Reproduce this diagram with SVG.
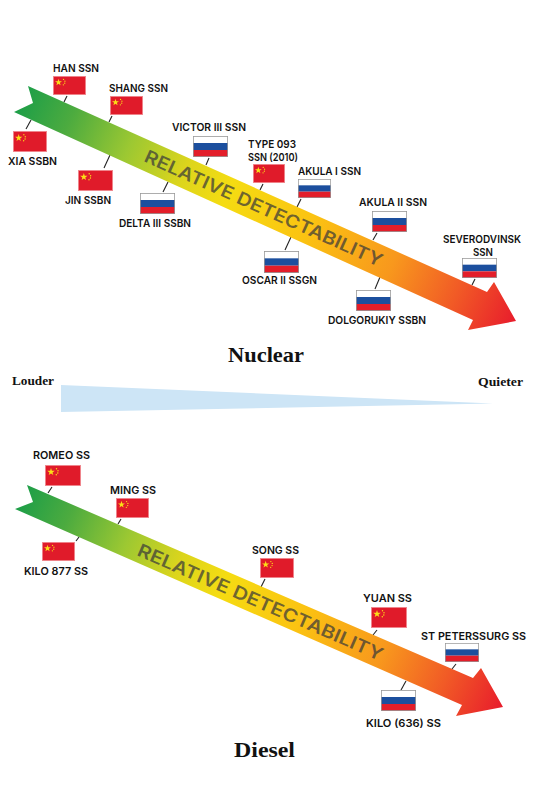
<svg xmlns="http://www.w3.org/2000/svg" width="533" height="800" viewBox="0 0 533 800">
<style>
.l{font-family:Inter,"Liberation Sans",sans-serif;font-weight:600;font-size:10.5px;fill:#111}
.t{font-family:"Liberation Serif",serif;font-weight:700;fill:#111}
.d{font-family:Inter,"Liberation Sans",sans-serif;font-weight:600;font-size:18px;fill:#3a3a3a;fill-opacity:.72}
#connectors line{stroke:#222;stroke-width:1.1}
</style>
<defs>
<linearGradient id="g1" gradientUnits="userSpaceOnUse" x1="20" y1="98" x2="516" y2="321">
<stop offset="0" stop-color="#1c9e48"/><stop offset=".1" stop-color="#4cab3f"/><stop offset=".22" stop-color="#9cc832"/><stop offset=".33" stop-color="#dcd51c"/><stop offset=".42" stop-color="#f5dc12"/><stop offset=".58" stop-color="#fbc312"/><stop offset=".75" stop-color="#f8981d"/><stop offset=".88" stop-color="#f15a26"/><stop offset="1" stop-color="#e81c2c"/>
</linearGradient>
<linearGradient id="g2" gradientUnits="userSpaceOnUse" x1="20" y1="496" x2="503" y2="707">
<stop offset="0" stop-color="#1c9e48"/><stop offset=".1" stop-color="#4cab3f"/><stop offset=".22" stop-color="#9cc832"/><stop offset=".33" stop-color="#dcd51c"/><stop offset=".42" stop-color="#f5dc12"/><stop offset=".58" stop-color="#fbc312"/><stop offset=".75" stop-color="#f8981d"/><stop offset=".88" stop-color="#f15a26"/><stop offset="1" stop-color="#e81c2c"/>
</linearGradient>
<symbol id="cn" viewBox="0 0 36 21" preserveAspectRatio="none">
<rect x=".4" y=".4" width="35.2" height="20.2" fill="#e01b2a" stroke="#f08a90" stroke-width=".8"/>
<polygon points="6,3 6.9,5.7 9.8,5.7 7.5,7.4 8.3,10.1 6,8.5 3.7,10.1 4.5,7.4 2.2,5.7 5.1,5.7" fill="#fbe017"/>
<circle cx="11.5" cy="3.8" r=".7" fill="#fbe017"/><circle cx="13" cy="5.7" r=".7" fill="#fbe017"/><circle cx="12.8" cy="8" r=".7" fill="#fbe017"/><circle cx="11.3" cy="9.8" r=".7" fill="#fbe017"/>
</symbol>
<symbol id="ru" viewBox="0 0 36 21" preserveAspectRatio="none">
<rect width="36" height="7" fill="#fff"/><rect y="7" width="36" height="7" fill="#1c4f9e"/><rect y="14" width="36" height="7" fill="#e31e2a"/>
<rect x=".4" y=".4" width="35.2" height="20.2" fill="none" stroke="#999" stroke-width=".8"/>
</symbol>
</defs>
<g id="connectors">
<line x1="67" y1="96" x2="64" y2="102"/><line x1="112" y1="116" x2="109" y2="122"/><line x1="31" y1="120" x2="26" y2="129"/><line x1="110" y1="155" x2="104" y2="168"/><line x1="168" y1="182" x2="163" y2="192"/><line x1="209" y1="158" x2="206" y2="165"/><line x1="263" y1="184" x2="260" y2="190"/><line x1="301" y1="199" x2="297" y2="207"/><line x1="291" y1="237" x2="285" y2="250"/><line x1="377" y1="233" x2="373" y2="240"/><line x1="475" y1="279" x2="472" y2="285"/><line x1="380" y1="277" x2="375" y2="289"/>
<line x1="52" y1="487" x2="48" y2="493"/><line x1="121" y1="519" x2="118" y2="524"/><line x1="79" y1="537" x2="76" y2="541"/><line x1="265" y1="579" x2="261" y2="587"/><line x1="377" y1="630" x2="373" y2="635"/><line x1="456" y1="664" x2="452" y2="669"/><line x1="406" y1="681" x2="401" y2="690"/>
</g>
<g id="arrow-nuclear">
<polygon points="28,86 487,292 494,282 516,321 468,330 473,320 14,112 33,103" fill="url(#g1)"/>
<text class="d" transform="translate(143 161) rotate(24.2)" textLength="259" lengthAdjust="spacingAndGlyphs">RELATIVE DETECTABILITY</text>
</g>
<g id="arrow-diesel">
<polygon points="27,485 473,678 481,668 503,707 456,716 462,705 15,509 33,502" fill="url(#g2)"/>
<text class="d" transform="translate(136 555) rotate(23.5)" textLength="266" lengthAdjust="spacingAndGlyphs">RELATIVE DETECTABILITY</text>
</g>
<g id="n-han"><use href="#cn" x="53" y="76" width="33" height="19"/><text class="l" x="53" y="72" textLength="46" lengthAdjust="spacingAndGlyphs">HAN SSN</text></g>
<g id="n-shang"><use href="#cn" x="110" y="96" width="33" height="19"/><text class="l" x="109" y="92" textLength="59" lengthAdjust="spacingAndGlyphs">SHANG SSN</text></g>
<g id="n-xia"><use href="#cn" x="13" y="131" width="34" height="21"/><text class="l" x="8" y="165" textLength="49" lengthAdjust="spacingAndGlyphs">XIA SSBN</text></g>
<g id="n-jin"><use href="#cn" x="78" y="170" width="35" height="21"/><text class="l" x="65" y="204" textLength="46" lengthAdjust="spacingAndGlyphs">JIN SSBN</text></g>
<g id="n-delta"><use href="#ru" x="140" y="193" width="35" height="21"/><text class="l" x="119" y="227" textLength="72" lengthAdjust="spacingAndGlyphs">DELTA III SSBN</text></g>
<g id="n-victor"><use href="#ru" x="193" y="136" width="35" height="21"/><text class="l" x="172" y="131" textLength="74" lengthAdjust="spacingAndGlyphs">VICTOR III SSN</text></g>
<g id="n-type093"><use href="#cn" x="253" y="164" width="32" height="19"/><text class="l" x="248" y="148" textLength="48" lengthAdjust="spacingAndGlyphs">TYPE 093</text><text class="l" x="248" y="160.5" textLength="50" lengthAdjust="spacingAndGlyphs">SSN (2010)</text></g>
<g id="n-akula1"><use href="#ru" x="298" y="179" width="33" height="19"/><text class="l" x="298" y="175" textLength="63" lengthAdjust="spacingAndGlyphs">AKULA I SSN</text></g>
<g id="n-oscar"><use href="#ru" x="264" y="251" width="35" height="22"/><text class="l" x="242" y="284" textLength="75" lengthAdjust="spacingAndGlyphs">OSCAR II SSGN</text></g>
<g id="n-akula2"><use href="#ru" x="372" y="211" width="35" height="21"/><text class="l" x="359" y="206" textLength="68" lengthAdjust="spacingAndGlyphs">AKULA II SSN</text></g>
<g id="n-dolgorukiy"><use href="#ru" x="356" y="290" width="35" height="21"/><text class="l" x="328" y="324" textLength="98" lengthAdjust="spacingAndGlyphs">DOLGORUKIY SSBN</text></g>
<g id="n-severodvinsk"><use href="#ru" x="462" y="258" width="35" height="20"/><text class="l" x="443" y="243" textLength="78" lengthAdjust="spacingAndGlyphs">SEVERODVINSK</text><text class="l" x="473" y="255.5" textLength="20" lengthAdjust="spacingAndGlyphs">SSN</text></g>
<g id="n-romeo"><use href="#cn" x="45" y="465" width="36" height="21"/><text class="l" x="33" y="459" textLength="57" lengthAdjust="spacingAndGlyphs">ROMEO SS</text></g>
<g id="n-ming"><use href="#cn" x="116" y="498" width="33" height="20"/><text class="l" x="110" y="494" textLength="46" lengthAdjust="spacingAndGlyphs">MING SS</text></g>
<g id="n-kilo877"><use href="#cn" x="42" y="542" width="33" height="19"/><text class="l" x="24" y="575" textLength="64" lengthAdjust="spacingAndGlyphs">KILO 877 SS</text></g>
<g id="n-song"><use href="#cn" x="260" y="558" width="34" height="20"/><text class="l" x="252" y="554" textLength="47" lengthAdjust="spacingAndGlyphs">SONG SS</text></g>
<g id="n-yuan"><use href="#cn" x="371" y="607" width="36" height="21"/><text class="l" x="363" y="602" textLength="49" lengthAdjust="spacingAndGlyphs">YUAN SS</text></g>
<g id="n-stpetersburg"><use href="#ru" x="445" y="643" width="34" height="19"/><text class="l" x="421" y="640" textLength="105" lengthAdjust="spacingAndGlyphs">ST PETERSSURG SS</text></g>
<g id="n-kilo636"><use href="#ru" x="381" y="690" width="35" height="21"/><text class="l" x="366" y="727" textLength="75" lengthAdjust="spacingAndGlyphs">KILO (636) SS</text></g>
<g id="scale">
<polygon points="61,385 493,403.5 61,412" fill="#cde5f6"/>
<text class="t" x="12" y="385" font-size="13.5" textLength="42" lengthAdjust="spacingAndGlyphs">Louder</text>
<text class="t" x="478" y="386" font-size="13.5" textLength="45" lengthAdjust="spacingAndGlyphs">Quieter</text>
</g>
<text class="t" x="228" y="362" font-size="22" textLength="76" lengthAdjust="spacingAndGlyphs">Nuclear</text>
<text class="t" x="234" y="757" font-size="22" textLength="61" lengthAdjust="spacingAndGlyphs">Diesel</text>
</svg>
